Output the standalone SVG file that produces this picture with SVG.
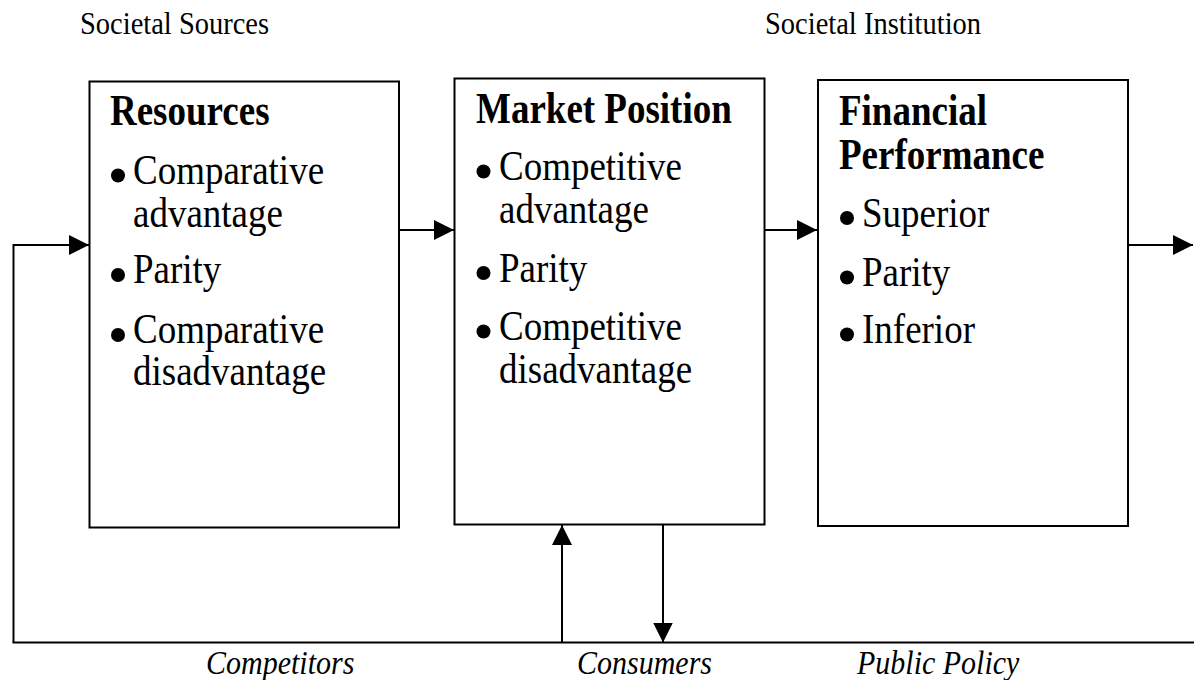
<svg xmlns="http://www.w3.org/2000/svg" width="1194" height="680" viewBox="0 0 1194 680">
<style>
.box{fill:#fff;stroke:#000;stroke-width:2}
.ln{fill:none;stroke:#000;stroke-width:2}
.t{font-family:"Liberation Serif","Times New Roman",serif;fill:#000}
.h{font-size:37px;font-weight:bold}
.b{font-size:37px}
.s{font-size:28.5px}
.i{font-size:30px;font-style:italic}
.dot{fill:#000}
</style>
<defs>
<marker id="ah" markerUnits="userSpaceOnUse" markerWidth="20" markerHeight="20" refX="20" refY="10" orient="auto">
<path d="M0,0 L20,10 L0,20 Z" fill="#000"/>
</marker>
</defs>
<rect width="1194" height="680" fill="#fff"/>
<text class="t s" transform="matrix(1 0 0 1.12 80 33.5)">Societal Sources</text>
<text class="t s" transform="matrix(1 0 0 1.12 765 33.5)">Societal Institution</text>
<g id="connectors">
<path class="ln" d="M399,230 H454" marker-end="url(#ah)"/>
<path class="ln" d="M764,230 H817" marker-end="url(#ah)"/>
<path class="ln" d="M1128,245 H1193" marker-end="url(#ah)"/>
<path class="ln" d="M13.5,642.5 V245 H89" marker-end="url(#ah)"/>
<path class="ln" d="M12.5,642.5 H1194"/>
<path class="ln" d="M562,642.5 V525" marker-end="url(#ah)"/>
<path class="ln" d="M663,525 V642.5" marker-end="url(#ah)"/>
</g>
<g id="resources">
<rect class="box" x="89.5" y="81.5" width="309.5" height="446"/>
<text class="t h" transform="matrix(1 0 0 1.17 110 125)">Resources</text>
<circle class="dot" cx="118" cy="175.5" r="7"/><text class="t b" transform="matrix(1 0 0 1.15 133 184)">Comparative</text>
<text class="t b" transform="matrix(1 0 0 1.15 133 226.5)">advantage</text>
<circle class="dot" cx="118" cy="275" r="7"/><text class="t b" transform="matrix(1 0 0 1.15 133 283)">Parity</text>
<circle class="dot" cx="118" cy="335" r="7"/><text class="t b" transform="matrix(1 0 0 1.15 133 343)">Comparative</text>
<text class="t b" transform="matrix(1 0 0 1.15 133 385)">disadvantage</text>
</g>
<g id="market-position">
<rect class="box" x="454.5" y="78.5" width="310" height="446"/>
<text class="t h" transform="matrix(1 0 0 1.17 476 122.5)">Market Position</text>
<circle class="dot" cx="483.5" cy="171.5" r="7"/><text class="t b" transform="matrix(1 0 0 1.15 499 180)">Competitive</text>
<text class="t b" transform="matrix(1 0 0 1.15 499 222.5)">advantage</text>
<circle class="dot" cx="483.5" cy="273" r="7"/><text class="t b" transform="matrix(1 0 0 1.15 499 281.5)">Parity</text>
<circle class="dot" cx="483.5" cy="331.5" r="7"/><text class="t b" transform="matrix(1 0 0 1.15 499 340)">Competitive</text>
<text class="t b" transform="matrix(1 0 0 1.15 499 382.5)">disadvantage</text>
</g>
<g id="financial-performance">
<rect class="box" x="818" y="80" width="310" height="446"/>
<text class="t h" transform="matrix(1 0 0 1.17 839 125)">Financial</text>
<text class="t h" transform="matrix(1 0 0 1.17 839 169)">Performance</text>
<circle class="dot" cx="847" cy="218" r="7"/><text class="t b" transform="matrix(1 0 0 1.15 862 226.5)">Superior</text>
<circle class="dot" cx="847" cy="277.5" r="7"/><text class="t b" transform="matrix(1 0 0 1.15 862 286)">Parity</text>
<circle class="dot" cx="847" cy="334.5" r="7"/><text class="t b" transform="matrix(1 0 0 1.15 862 343)">Inferior</text>
</g>
<g id="labels">
<text class="t i" transform="matrix(1 0 0 1.12 206 674)">Competitors</text>
<text class="t i" transform="matrix(1 0 0 1.12 577 674)">Consumers</text>
<text class="t i" transform="matrix(1 0 0 1.12 857 674)">Public Policy</text>
</g>
</svg>
